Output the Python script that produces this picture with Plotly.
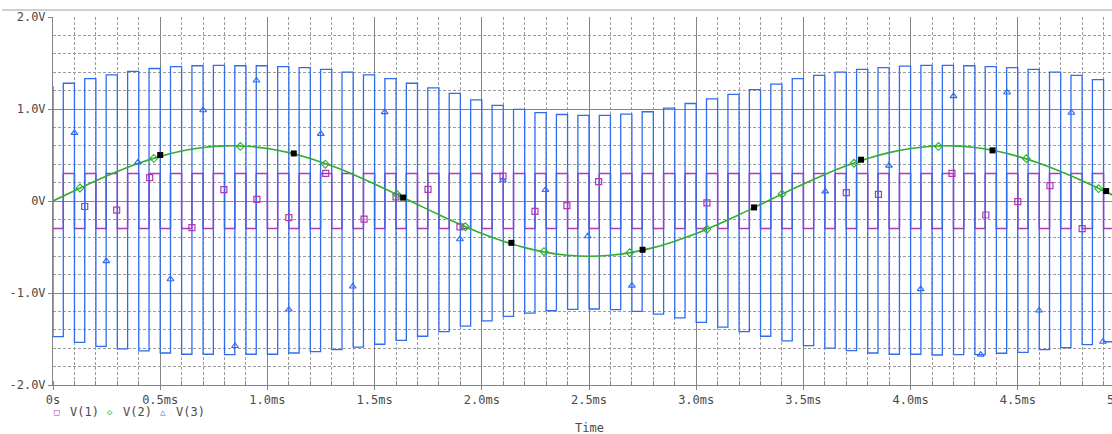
import plotly.graph_objects as go

# ---------------- data (time in ms, volts) ----------------
PERIOD = 0.1          # carrier period of V(1)/V(3)
RISE_OFFSET = 0.048   # rising edge position inside each period

# V(3) high level of each carrier period (k = 0..49)
V3_TOP = [1.28, 1.33, 1.37, 1.41, 1.44, 1.46, 1.47, 1.475, 1.47, 1.47,
          1.46, 1.45, 1.43, 1.40, 1.37, 1.33, 1.28, 1.23, 1.17, 1.10,
          1.04, 0.995, 0.96, 0.94, 0.93, 0.93, 0.945, 0.97, 1.01, 1.06,
          1.11, 1.16, 1.21, 1.27, 1.33, 1.365, 1.40, 1.43, 1.45, 1.465,
          1.475, 1.475, 1.47, 1.46, 1.45, 1.43, 1.40, 1.365, 1.32, 1.28]
# V(3) low level of each carrier period
V3_BOTTOM = [-1.475, -1.536, -1.58, -1.608, -1.63, -1.652, -1.666, -1.666, -1.67, -1.666,
             -1.666, -1.652, -1.638, -1.616, -1.588, -1.557, -1.516, -1.47, -1.42, -1.361,
             -1.302, -1.254, -1.218, -1.193, -1.179, -1.174, -1.181, -1.199, -1.229, -1.27,
             -1.32, -1.37, -1.42, -1.47, -1.52, -1.573, -1.60, -1.627, -1.652, -1.666,
             -1.666, -1.674, -1.67, -1.67, -1.655, -1.645, -1.616, -1.594, -1.562, -1.53]
V3_START = 1.25
V1_HIGH = 0.3
V1_LOW = -0.3

# V(2) sampled every 0.1 ms
V2_T = [i / 10 for i in range(51)]
V2 = [0.0, 0.112, 0.221, 0.321, 0.411, 0.485, 0.543, 0.581, 0.599, 0.595,
      0.571, 0.526, 0.463, 0.382, 0.289, 0.185, 0.075, -0.038, -0.149, -0.255,
      -0.353, -0.437, -0.507, -0.558, -0.589, -0.600, -0.589, -0.558, -0.507, -0.437,
      -0.353, -0.255, -0.149, -0.038, 0.075, 0.185, 0.289, 0.382, 0.463, 0.526,
      0.571, 0.595, 0.599, 0.581, 0.543, 0.485, 0.411, 0.321, 0.221, 0.112, 0.0]

# marker symbols (data points where PSpice drew trace symbols)
MK1_T = [0.148, 0.297, 0.451, 0.648, 0.797, 0.951, 1.10, 1.272, 1.451, 1.60, 1.749, 1.898,
         2.099, 2.248, 2.397, 2.545, 3.05, 3.70, 3.85, 4.193, 4.351, 4.50, 4.65, 4.80]
MK1_V = [-0.06, -0.10, 0.254, -0.289, 0.124, 0.018, -0.18, 0.30, -0.198, 0.044, 0.127, -0.282,
         0.27, -0.112, -0.05, 0.21, -0.02, 0.09, 0.073, 0.30, -0.152, -0.007, 0.167, -0.30]
MK2_T = [0.126, 0.470, 0.874, 1.27, 1.604, 1.923, 2.29, 2.69, 3.05, 3.40, 3.736, 4.13, 4.54, 4.877]
MK2_V = [0.141, 0.463, 0.593, 0.40, 0.073, -0.28, -0.55, -0.562, -0.307, 0.075, 0.41, 0.593, 0.46, 0.134]
MK3_T = [0.10, 0.249, 0.396, 0.548, 0.70, 0.849, 0.949, 1.10, 1.249, 1.398, 1.547, 1.898,
         2.098, 2.297, 2.494, 2.70, 3.602, 3.899, 4.047, 4.20, 4.327, 4.45, 4.599, 4.75, 4.897]
MK3_V = [0.74, -0.654, 0.42, -0.85, 0.987, -1.576, 1.31, -1.18, 0.73, -0.93, 0.966, -0.415,
         0.225, 0.12, -0.383, -0.92, 0.105, 0.384, -0.958, 1.14, -1.67, 1.18, -1.19, 0.96, -1.53]
BLK_T = [0.50, 1.123, 1.633, 2.138, 2.75, 3.27, 3.769, 4.382, 4.912]
BLK_V = [0.50, 0.517, 0.037, -0.455, -0.53, -0.07, 0.449, 0.55, 0.108]

X_TICKS = [0, 0.5, 1.0, 1.5, 2.0, 2.5, 3.0, 3.5, 4.0, 4.5]
X_LABELS = ["0s", "0.5ms", "1.0ms", "1.5ms", "2.0ms", "2.5ms", "3.0ms", "3.5ms", "4.0ms", "4.5ms"]
Y_TICKS = [-2, -1, 0, 1, 2]
Y_LABELS = ["-2.0V", "-1.0V", "0V", "1.0V", "2.0V"]

# ---------------- build step waveforms ----------------
t3, v3, t1, v1 = [0.0], [V3_START], [0.0], [V1_LOW]
for k, (hi, lo) in enumerate(zip(V3_TOP, V3_BOTTOM)):
    a = k * PERIOD
    r = a + RISE_OFFSET
    b = (k + 1) * PERIOD
    t3 += [a, r, r, b]
    v3 += [lo, lo, hi, hi]
    t1 += [a, r, r, b]
    v1 += [V1_LOW, V1_LOW, V1_HIGH, V1_HIGH]

C1, C2, C3 = "#b437b4", "#2fae2f", "#2f6cf0"
FONT = "DejaVu Sans Mono"
TXT = "#4a4a4a"

fig = go.Figure()
fig.add_trace(go.Scatter(x=t1, y=v1, mode="lines", line=dict(color=C1, width=1.5), hoverinfo="skip"))
fig.add_trace(go.Scatter(x=t3, y=v3, mode="lines", line=dict(color=C3, width=1.3), hoverinfo="skip"))
fig.add_trace(go.Scatter(x=V2_T, y=V2, mode="lines", line=dict(color=C2, width=1.6, shape="spline"), hoverinfo="skip"))
fig.add_trace(go.Scatter(x=MK1_T, y=MK1_V, mode="markers",
                         marker=dict(symbol="square-open", size=6, color=C1, line=dict(width=1.2))))
fig.add_trace(go.Scatter(x=MK2_T, y=MK2_V, mode="markers",
                         marker=dict(symbol="diamond-open", size=6, color=C2, line=dict(width=1.1))))
fig.add_trace(go.Scatter(x=MK3_T, y=MK3_V, mode="markers",
                         marker=dict(symbol="triangle-up-open", size=6, color=C3, line=dict(width=1.1))))
fig.add_trace(go.Scatter(x=BLK_T, y=BLK_V, mode="markers",
                         marker=dict(symbol="square", size=6, color="black")))

W, H = 1112, 434
ML, MT, MB = 53, 17, 49
PW, PH = W - ML, H - MT - MB
PX_PER_MS = 214.4

def px(xp):
    return (xp - ML) / PW

def py(yp):
    return (H - MB - yp) / PH

grid_major = "#858585"
grid_minor = "#9c9c9c"

fig.update_layout(
    width=W, height=H, margin=dict(l=ML, r=0, t=MT, b=MB),
    paper_bgcolor="white", plot_bgcolor="white", showlegend=False,
    font=dict(family=FONT, size=12, color=TXT),
    xaxis=dict(range=[0, PW / PX_PER_MS], tickvals=X_TICKS, ticktext=X_LABELS,
               showgrid=True, gridcolor=grid_major, gridwidth=1, zeroline=False,
               showline=True, linecolor=grid_major, linewidth=1,
               ticks="outside", ticklen=4, tickcolor=grid_major,
               minor=dict(dtick=0.1, showgrid=True, gridcolor=grid_minor, griddash="3px,2px",
                          gridwidth=1, ticks="inside", ticklen=4, tickcolor=grid_major),
               tickfont=dict(family=FONT, size=12, color=TXT)),
    yaxis=dict(range=[-2, 2], tickvals=Y_TICKS, ticktext=Y_LABELS,
               showgrid=True, gridcolor=grid_major, gridwidth=1, zeroline=False,
               showline=True, linecolor=grid_major, linewidth=1,
               ticks="outside", ticklen=4, tickcolor=grid_major,
               minor=dict(dtick=0.2, showgrid=True, gridcolor=grid_minor, griddash="3px,2px",
                          gridwidth=1),
               tickfont=dict(family=FONT, size=12, color=TXT)),
)

# outer top frame line
fig.add_shape(type="line", xref="paper", yref="paper", x0=px(2), x1=px(W), y0=py(10), y1=py(10),
              line=dict(color="#a0a0a0", width=1))

ann = []
# 5.0ms label, partly beyond the right edge as in the reference
ann.append(dict(text="5.0ms", x=px(ML + 5.0 * PX_PER_MS), y=py(400), xref="paper", yref="paper",
                showarrow=False, xanchor="center", yanchor="middle"))
ann.append(dict(text="Time", x=px(589), y=py(428), xref="paper", yref="paper",
                showarrow=False, xanchor="center", yanchor="middle"))
# legend
for sym, col, xs, label in [("\u25a1", C1, 57, "V(1)"), ("\u25c7", C2, 110, "V(2)"), ("\u25b3", C3, 163, "V(3)")]:
    ann.append(dict(text=sym, x=px(xs), y=py(412), xref="paper", yref="paper", showarrow=False,
                    xanchor="center", yanchor="middle", font=dict(size=9, color=col)))
    ann.append(dict(text=label, x=px(xs + 11), y=py(412), xref="paper", yref="paper", showarrow=False,
                    xanchor="left", yanchor="middle"))
fig.update_layout(annotations=ann)

fig.write_html("out.html", config={"displayModeBar": False},
               post_script="document.body.style.margin='0';document.body.style.overflow='hidden';")
